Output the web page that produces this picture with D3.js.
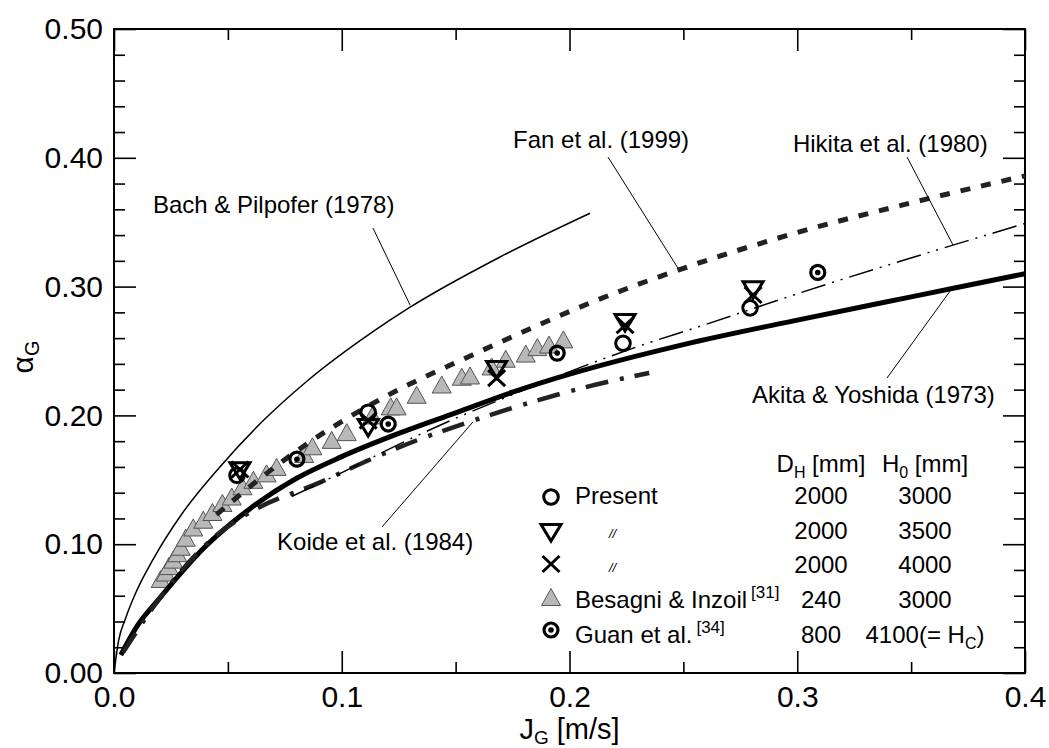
<!DOCTYPE html>
<meta charset="utf-8">
<style>
html, body {
  margin: 0;
  background: #fff;
}

svg {
  display: block;
  font-family: "Liberation Sans", Arial, Helvetica, sans-serif;
}

.frame {
  fill: none;
  stroke: #000;
  stroke-width: 2;
}

.axis path {
  display: none;
}

.axis line {
  stroke: #000;
  stroke-width: 1.6;
}

.axis text {
  font-size: 30px;
  fill: #000;
  font-family: "Liberation Sans", Arial, sans-serif;
}

.note {
  font-size: 24px;
}

.leader {
  stroke: #000;
  stroke-width: 1;
}

.curve {
  fill: none;
}
</style>
<body>
<svg class="chart" width="1049" height="748"></svg>

<script src="https://d3js.org/d3.v7.min.js"></script>
<script type="text/javascript">
"use strict";

// tick values
var xMajor = [0, 0.1, 0.2, 0.3, 0.4],
  xMinor = [0.05, 0.15, 0.25, 0.35],
  yMajor = [0, 0.1, 0.2, 0.3, 0.4, 0.5],
  yMinor = [0.02, 0.04, 0.06, 0.08, 0.12, 0.14, 0.16, 0.18, 0.22, 0.24, 0.26, 0.28,
            0.32, 0.34, 0.36, 0.38, 0.42, 0.44, 0.46, 0.48];

// correlations [J_G, alpha_G]
var bach = [[0, 0], [0.002, 0.025], [0.005, 0.042], [0.01, 0.064], [0.0171, 0.088], [0.03, 0.124],
  [0.0465, 0.16], [0.065, 0.195], [0.0847, 0.2265], [0.1137, 0.265], [0.13, 0.284], [0.1695, 0.323],
  [0.209, 0.357]];
var akita = [[0.003, 0.014], [0.01, 0.036], [0.02, 0.058], [0.04, 0.098], [0.06, 0.128], [0.08, 0.151],
  [0.1, 0.168], [0.125, 0.186], [0.15, 0.202], [0.175, 0.218], [0.2, 0.232], [0.25, 0.255],
  [0.3, 0.274], [0.35, 0.292], [0.4, 0.31]];
var koide = [[0.004, 0.016], [0.02, 0.058], [0.045, 0.107], [0.06, 0.125], [0.0905, 0.148],
  [0.1115, 0.165], [0.1335, 0.181], [0.156, 0.195], [0.179, 0.208], [0.205, 0.221], [0.235, 0.233]];
var hikita = [[0.078, 0.137], [0.1005, 0.156], [0.128, 0.18], [0.149, 0.197], [0.17, 0.2125],
  [0.2, 0.234], [0.232, 0.2547], [0.257, 0.269], [0.301, 0.295], [0.368, 0.332], [0.4, 0.349]];
var fan = [[0.045, 0.123], [0.051, 0.132], [0.067, 0.155], [0.084, 0.177], [0.118, 0.2135],
  [0.155, 0.245], [0.171, 0.258], [0.21, 0.288], [0.248, 0.313], [0.3, 0.342], [0.35, 0.365], [0.4, 0.386]];

// measurements
var present3000 = [[0.054, 0.1535], [0.1116, 0.2025], [0.2235, 0.256], [0.2793, 0.2835]];
var present3500 = [[0.0553, 0.1575], [0.1116, 0.191], [0.168, 0.236], [0.2244, 0.2725], [0.2806, 0.298]];
var present4000 = [[0.0553, 0.158], [0.1116, 0.196], [0.168, 0.229], [0.2244, 0.27], [0.2806, 0.2935]];
var besagni = [[0.0205, 0.073], [0.0227, 0.078], [0.0241, 0.083], [0.026, 0.088], [0.0278, 0.093],
  [0.0293, 0.098], [0.0315, 0.105], [0.0348, 0.113], [0.0392, 0.119], [0.0432, 0.125], [0.0476, 0.132],
  [0.0517, 0.137], [0.0564, 0.145], [0.0612, 0.15], [0.067, 0.155], [0.0714, 0.16], [0.0835, 0.17],
  [0.0871, 0.176], [0.0956, 0.181], [0.1022, 0.187], [0.1134, 0.2], [0.1215, 0.207], [0.1241, 0.207],
  [0.1329, 0.216], [0.1439, 0.224], [0.1527, 0.23], [0.1563, 0.231], [0.1658, 0.238], [0.172, 0.244],
  [0.1808, 0.248], [0.1859, 0.253], [0.191, 0.255], [0.1973, 0.259]];
var guan = [[0.0803, 0.166], [0.1204, 0.1933], [0.1946, 0.2484], [0.309, 0.311]];

var plot = { left: 114, right: 1025, top: 29, bottom: 673 };

var svg = d3.select(".chart");

var x = d3.scaleLinear().domain([0, 0.4]).range([plot.left, plot.right]);
var y = d3.scaleLinear().domain([0, 0.5]).range([plot.bottom, plot.top]);

// axes: major ticks long, minor short, all pointing inward
function addAxis(gen, scale, pos, values, len, fmt, pad) {
  svg.append("g")
    .attr("class", "axis")
    .attr("transform", pos)
    .call(gen(scale).tickValues(values).tickSizeInner(-len).tickSizeOuter(0)
      .tickPadding(pad || 0).tickFormat(fmt || ""));
}

addAxis(d3.axisBottom, x, "translate(0," + plot.bottom + ")", xMajor, 22, d3.format(".1f"), 13);
addAxis(d3.axisBottom, x, "translate(0," + plot.bottom + ")", xMinor, 11);
addAxis(d3.axisTop, x, "translate(0," + plot.top + ")", xMajor, 22);
addAxis(d3.axisTop, x, "translate(0," + plot.top + ")", xMinor, 11);
addAxis(d3.axisLeft, y, "translate(" + plot.left + ",0)", yMajor, 22, d3.format(".2f"), 11);
addAxis(d3.axisLeft, y, "translate(" + plot.left + ",0)", yMinor, 11);
addAxis(d3.axisRight, y, "translate(" + plot.right + ",0)", yMajor, 22);
addAxis(d3.axisRight, y, "translate(" + plot.right + ",0)", yMinor, 11);

svg.append("rect")
  .attr("class", "frame")
  .attr("x", plot.left)
  .attr("y", plot.top)
  .attr("width", plot.right - plot.left)
  .attr("height", plot.bottom - plot.top);

// axis titles
var xt = svg.append("text")
  .attr("x", (plot.left + plot.right) / 2)
  .attr("y", 739)
  .attr("text-anchor", "middle")
  .style("font-size", "29px");
xt.append("tspan").text("J");
xt.append("tspan").attr("dy", 5).style("font-size", "19px").text("G");
xt.append("tspan").attr("dy", -5).text(" [m/s]");

var yt = svg.append("text")
  .attr("transform", "translate(33," + ((plot.top + plot.bottom) / 2 + 6) + ") rotate(-90)")
  .attr("text-anchor", "middle")
  .style("font-size", "30px");
yt.append("tspan").text("\u03b1");
yt.append("tspan").attr("dy", 6).style("font-size", "20px").text("G");

// markers
function markerPath(type) {
  switch (type) {
  case "up":
    return "M0,-8.5L9.5,8.5L-9.5,8.5Z";
  case "down":
    return "M-10,-7.5L10,-7.5L0,9Z";
  case "cross":
    return "M-8.5,-8L8.5,8M-8.5,8L8.5,-8";
  }
}

function drawMarker(g, type) {
  if (type === "circle") {
    g.append("circle").attr("r", 7.3).attr("fill", "none")
      .attr("stroke", "#000").attr("stroke-width", 3);
  } else if (type === "target") {
    g.append("circle").attr("r", 7).attr("fill", "none")
      .attr("stroke", "#000").attr("stroke-width", 3.2);
    g.append("circle").attr("r", 2.8).attr("fill", "#000");
  } else if (type === "up") {
    g.append("path").attr("d", markerPath("up")).attr("fill", "#b8b8b8")
      .attr("stroke", "#555").attr("stroke-width", 1);
  } else {
    g.append("path").attr("d", markerPath(type)).attr("fill", "none")
      .attr("stroke", "#000").attr("stroke-width", 3).attr("stroke-linejoin", "miter");
  }
}

function plotPoints(data, type) {
  svg.append("g").selectAll("g")
    .data(data)
    .join("g")
    .attr("transform", function (d) { return "translate(" + x(d[0]) + "," + y(d[1]) + ")"; })
    .each(function () { drawMarker(d3.select(this), type); });
}

var line = d3.line()
  .x(function (d) { return x(d[0]); })
  .y(function (d) { return y(d[1]); })
  .curve(d3.curveMonotoneX);

function plotCurve(data, width, dash, color) {
  svg.append("path")
    .datum(data)
    .attr("class", "curve")
    .attr("d", line)
    .attr("stroke", color || "#000")
    .attr("stroke-width", width)
    .attr("stroke-dasharray", dash || null);
}

plotPoints(besagni, "up");
plotCurve(bach, 1.5);
plotCurve(akita, 5);
plotCurve(koide, 4.5, "23,12,4,11", "#222");
plotCurve(hikita, 1.5, "25,7,2,7,2,7");
plotCurve(fan, 5, "10,11", "#222");
plotPoints(present3000, "circle");
plotPoints(present3500, "down");
plotPoints(present4000, "cross");
plotPoints(guan, "target");

// curve labels with leader lines
var notes = [
  { text: "Bach & Pilpofer (1978)", at: [0.0171, 0.357], anchor: "start", from: [0.1137, 0.3455], to: [0.13, 0.2857] },
  { text: "Fan et al. (1999)", at: [0.1752, 0.4076], anchor: "start", from: [0.2169, 0.4006], to: [0.2476, 0.3144] },
  { text: "Hikita et al. (1980)", at: [0.2981, 0.4045], anchor: "start", from: [0.3482, 0.4006], to: [0.3684, 0.3323] },
  { text: "Akita & Yoshida (1973)", at: [0.2801, 0.2096], anchor: "start", from: [0.3394, 0.229], to: [0.3684, 0.2997] },
  { text: "Koide et al. (1984)", at: [0.0716, 0.0955], anchor: "start", from: [0.1177, 0.1134], to: [0.1576, 0.1949] }
];

notes.forEach(function (n) {
  svg.append("line")
    .attr("class", "leader")
    .attr("x1", x(n.from[0])).attr("y1", y(n.from[1]))
    .attr("x2", x(n.to[0])).attr("y2", y(n.to[1]));
  svg.append("text")
    .attr("class", "note")
    .attr("x", x(n.at[0]))
    .attr("y", y(n.at[1]))
    .attr("text-anchor", n.anchor)
    .text(n.text);
});

// legend table
var legendRows = [
  { type: "circle", label: "Present", ref: "", dh: "2000", h0: "3000" },
  { type: "down", label: "//", ref: "", dh: "2000", h0: "3500" },
  { type: "cross", label: "//", ref: "", dh: "2000", h0: "4000" },
  { type: "up", label: "Besagni & Inzoil", ref: "[31]", dh: "240", h0: "3000" },
  { type: "target", label: "Guan et al.", ref: "[34]", dh: "800", h0: "4100(= H" }
];

var legend = svg.append("g").attr("class", "note");
var symX = 551, textX = 575, dhX = 821, h0X = 925;
var rowBase = [504, 539, 573, 608, 643],
  rowSym = [497, 532, 564, 597, 630];

var head = legend.append("text").attr("x", dhX).attr("y", 472).attr("text-anchor", "middle");
head.append("tspan").text("D");
head.append("tspan").attr("dy", 6).style("font-size", "16px").text("H");
head.append("tspan").attr("dy", -6).text(" [mm]");
head = legend.append("text").attr("x", h0X).attr("y", 472).attr("text-anchor", "middle");
head.append("tspan").text("H");
head.append("tspan").attr("dy", 6).style("font-size", "16px").text("0");
head.append("tspan").attr("dy", -6).text(" [mm]");

legendRows.forEach(function (r, i) {
  drawMarker(legend.append("g").attr("transform", "translate(" + symX + "," + rowSym[i] + ")"), r.type);
  if (r.label === "//") {
    legend.append("text").attr("x", 609).attr("y", rowBase[i] - 1)
      .style("font-size", "13px").style("font-style", "italic").text("//");
  } else {
    var t = legend.append("text").attr("x", textX).attr("y", rowBase[i]).text(r.label);
    if (r.ref) {
      t.append("tspan").attr("dx", 4).attr("dy", -10).style("font-size", "17px").text(r.ref);
    }
  }
  legend.append("text").attr("x", dhX).attr("y", rowBase[i]).attr("text-anchor", "middle").text(r.dh);
  var h = legend.append("text").attr("x", h0X).attr("y", rowBase[i]).attr("text-anchor", "middle");
  h.append("tspan").text(r.h0);
  if (r.type === "target") {
    h.append("tspan").attr("dy", 6).style("font-size", "16px").text("C");
    h.append("tspan").attr("dy", -6).text(")");
  }
});
</script>
</body>
